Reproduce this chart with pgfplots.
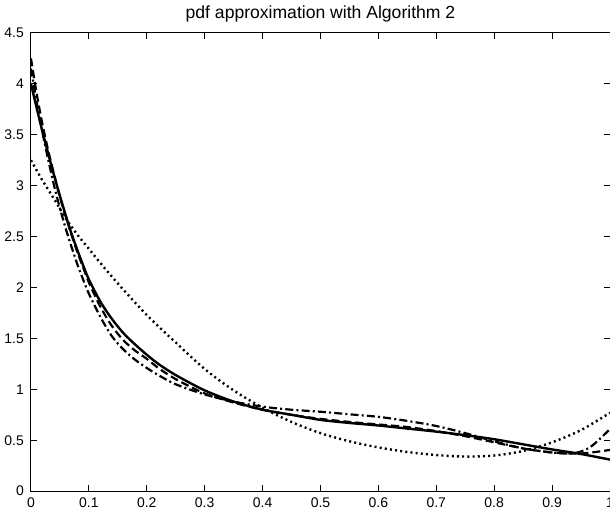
\documentclass[border=0pt]{standalone}
\usepackage{fontspec}
\setmainfont{Liberation Sans}
\usepackage{pgfplots}
\pgfplotsset{compat=1.18}
\begin{document}
\begin{tikzpicture}
\begin{axis}[
  name=ax, scale only axis, width=290pt, height=229.5pt,
  xmin=0, xmax=1, ymin=0, ymax=4.5,
  xtick={0,0.1,0.2,0.3,0.4,0.5,0.6,0.7,0.8,0.9,1},
  ytick={0,0.5,1,1.5,2,2.5,3,3.5,4,4.5},
  tick align=inside, xtick pos=both, ytick pos=both,
  xticklabel pos=bottom, yticklabel pos=left,
  major tick length=3pt,
  axis line style={line width=0.5pt}, tick style={black,line width=0.5pt},
  tick label style={font=\fontsize{7}{8}\selectfont,
    /pgf/number format/assume math mode=true},
  title={pdf approximation with Algorithm 2},
  title style={font=\fontsize{8.8}{10}\selectfont, at={(0.5,1)}, anchor=base, yshift=1pt, inner sep=0pt},
  clip=false,
]
% solid
\addplot[black, line width=1.2pt, smooth] coordinates {
(0,4.0) (0.01,3.76) (0.02,3.53) (0.03,3.31) (0.04,3.10) (0.05,2.90)
(0.06,2.71) (0.07,2.53) (0.08,2.37) (0.09,2.22) (0.1,2.08) (0.12,1.86)
(0.14,1.69) (0.16,1.55) (0.18,1.44) (0.2,1.34) (0.22,1.25) (0.25,1.14)
(0.3,0.99) (0.35,0.88) (0.4,0.80) (0.45,0.75) (0.5,0.70) (0.55,0.67)
(0.6,0.645) (0.65,0.615) (0.7,0.585) (0.75,0.55) (0.8,0.51) (0.85,0.46)
(0.9,0.41) (0.95,0.365) (1.0,0.31)};
% dashed
\addplot[black, line width=1.1pt, smooth, dash pattern=on 4pt off 2pt] coordinates {
(0,4.25) (0.01,3.9) (0.02,3.6) (0.03,3.34) (0.04,3.11) (0.05,2.89)
(0.06,2.70) (0.07,2.52) (0.08,2.35) (0.09,2.2) (0.1,2.05) (0.12,1.81)
(0.14,1.62) (0.16,1.48) (0.18,1.38) (0.2,1.30) (0.22,1.21) (0.25,1.10)
(0.3,0.96) (0.35,0.87) (0.4,0.80) (0.45,0.75) (0.5,0.71) (0.55,0.68)
(0.6,0.655) (0.65,0.63) (0.7,0.59) (0.75,0.54) (0.8,0.48) (0.85,0.42)
(0.9,0.38) (0.95,0.37) (1.0,0.405)};
% dash-dot
\addplot[black, line width=1.1pt, smooth, dash pattern=on 4pt off 1.6pt on 1pt off 1.6pt] coordinates {
(0,4.15) (0.01,3.82) (0.02,3.52) (0.03,3.25) (0.04,3.0) (0.05,2.78)
(0.06,2.58) (0.07,2.4) (0.08,2.23) (0.09,2.08) (0.1,1.94) (0.12,1.71)
(0.14,1.52) (0.16,1.39) (0.18,1.29) (0.2,1.21) (0.22,1.14) (0.25,1.05)
(0.3,0.95) (0.35,0.88) (0.4,0.83) (0.45,0.80) (0.5,0.78) (0.55,0.755)
(0.6,0.73) (0.65,0.69) (0.7,0.64) (0.75,0.57) (0.8,0.49) (0.85,0.42)
(0.9,0.38) (0.93,0.37) (0.95,0.39) (0.97,0.45) (1.0,0.61)};
% dotted
\addplot[black, line width=1.2pt, smooth, dash pattern=on 1pt off 1.6pt] coordinates {
(0,3.25) (0.02,3.05) (0.04,2.87) (0.06,2.68) (0.08,2.52) (0.1,2.38)
(0.12,2.24) (0.15,2.04) (0.2,1.73) (0.25,1.46) (0.3,1.2) (0.35,0.99)
(0.4,0.82) (0.45,0.68) (0.5,0.57) (0.55,0.49) (0.6,0.43) (0.65,0.385)
(0.7,0.355) (0.75,0.34) (0.8,0.35) (0.85,0.395) (0.9,0.48) (0.95,0.6)
(1.0,0.77)};
\end{axis}
\pgfresetboundingbox
\useasboundingbox ([xshift=-15.5pt,yshift=-9.5pt]ax.south west) rectangle ([yshift=16.5pt]ax.north east);
\end{tikzpicture}
\end{document}
